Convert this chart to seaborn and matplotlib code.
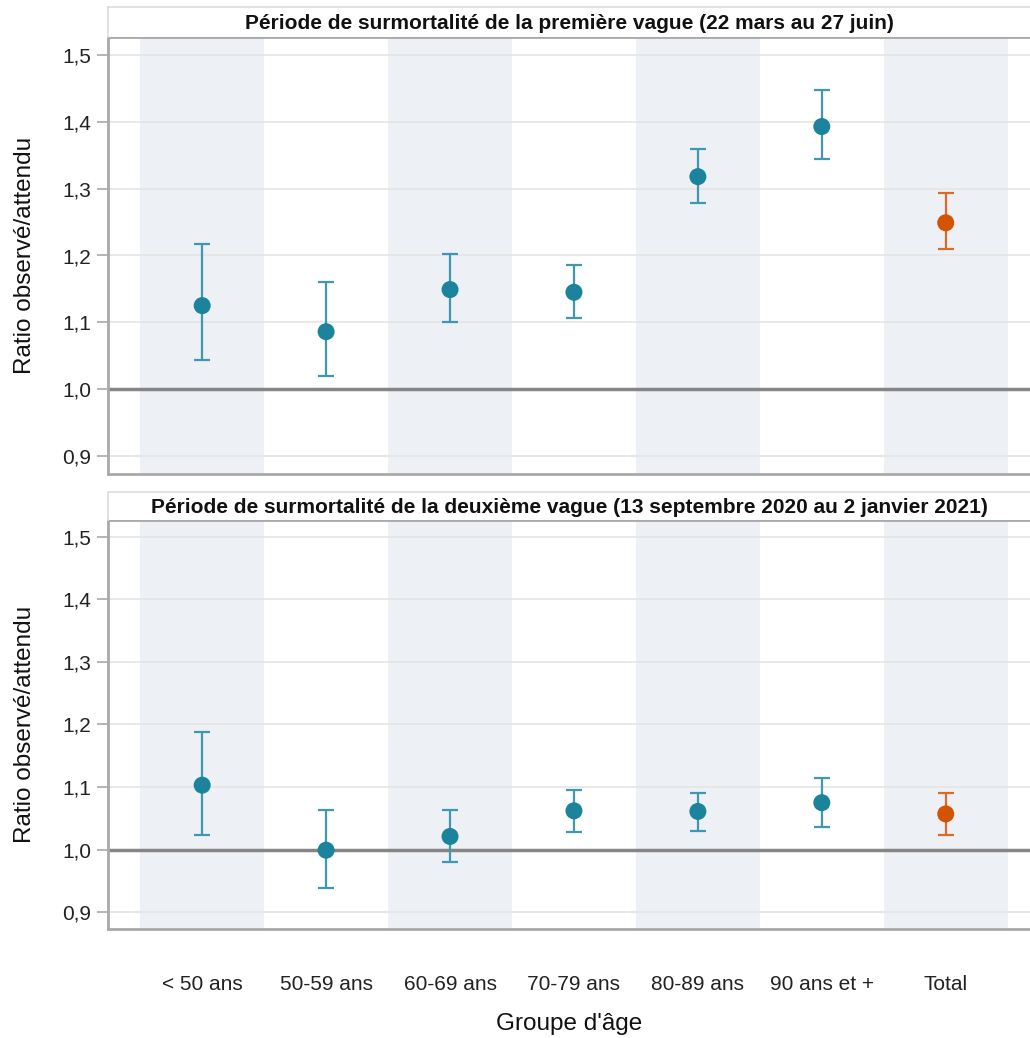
import numpy as np
import pandas as pd
import matplotlib
matplotlib.use("Agg")
import matplotlib.pyplot as plt
from matplotlib.ticker import FuncFormatter
import seaborn as sns

# categories and values
groupes = ["< 50 ans", "50-59 ans", "60-69 ans", "70-79 ans", "80-89 ans", "90 ans et +", "Total"]

vague1_ratio = [1.125, 1.086, 1.149, 1.145, 1.318, 1.393, 1.249]
vague1_bas = [1.044, 1.020, 1.101, 1.107, 1.279, 1.344, 1.210]
vague1_haut = [1.217, 1.160, 1.202, 1.186, 1.359, 1.448, 1.293]

vague2_ratio = [1.103, 0.999, 1.021, 1.062, 1.061, 1.075, 1.057]
vague2_bas = [1.023, 0.938, 0.980, 1.028, 1.029, 1.036, 1.023]
vague2_haut = [1.188, 1.063, 1.064, 1.096, 1.091, 1.114, 1.091]

titres = [
    "Période de surmortalité de la première vague (22 mars au 27 juin)",
    "Période de surmortalité de la deuxième vague (13 septembre 2020 au 2 janvier 2021)",
]

TEAL = "#1c839c"
TEAL_BAR = "#3f97b0"
ORANGE = "#d35400"
ORANGE_BAR = "#db6a2a"
BAND = "#edf0f5"
SPINE = "#a9a9a9"

sns.set_theme(style="white")
plt.rcParams["font.family"] = ["Liberation Sans", "DejaVu Sans"]

fig = plt.figure(figsize=(10.3, 10.38), dpi=100)
W, H = 1030, 1038

# panel boxes in pixels: (top of header, top of plot, bottom of plot)
panels = [(7, 37, 474), (492, 520, 929)]
left_px, right_px = 108, 1030

series = [
    (vague1_ratio, vague1_bas, vague1_haut),
    (vague2_ratio, vague2_bas, vague2_haut),
]

for k, ((h_top, p_top, p_bot), (ratio, bas, haut)) in enumerate(zip(panels, series)):
    ax = fig.add_axes([left_px / W, 1 - p_bot / H, (right_px - left_px) / W, (p_bot - p_top) / H])
    hx = fig.add_axes([left_px / W, 1 - p_top / H, (right_px - left_px) / W, (p_top - h_top) / H])

    # header strip
    hx.set_xticks([])
    hx.set_yticks([])
    for s in ["top", "left"]:
        hx.spines[s].set_color("#dddddd")
        hx.spines[s].set_linewidth(1.2)
    hx.spines["right"].set_visible(False)
    hx.spines["bottom"].set_visible(False)
    hx.text(0.5, 0.45, titres[k], ha="center", va="center", fontsize=15,
            fontweight="bold", color="#111111", transform=hx.transAxes)

    df = pd.DataFrame({
        "groupe": groupes,
        "ratio": ratio,
        "type": ["age"] * (len(groupes) - 1) + ["total"],
    })

    # alternating shaded bands
    for i in range(0, len(groupes), 2):
        ax.axvspan(i - 0.5, i + 0.5, color=BAND, zorder=0, lw=0)

    ax.set_yticks([0.9, 1.0, 1.1, 1.2, 1.3, 1.4, 1.5])
    ax.grid(axis="y", color="#e6e6e6", lw=1.3, zorder=0.5)
    ax.set_axisbelow(True)
    ax.axhline(1.0, color="#858585", lw=2.5, zorder=1)

    x = np.arange(len(groupes))
    for i in x:
        c = ORANGE_BAR if df["type"][i] == "total" else TEAL_BAR
        ax.errorbar(i, ratio[i], yerr=[[ratio[i] - bas[i]], [haut[i] - ratio[i]]],
                    fmt="none", ecolor=c, elinewidth=1.6, capsize=6, capthick=1.6, zorder=2)

    sns.scatterplot(data=df, x="groupe", y="ratio", hue="type",
                    palette={"age": TEAL, "total": ORANGE}, s=150,
                    edgecolor="none", legend=False, ax=ax, zorder=3)

    ax.set_xlim(-0.76, 6.68)
    ax.set_ylim(0.873, 1.527)
    ax.yaxis.set_major_formatter(FuncFormatter(lambda v, p: f"{v:.1f}".replace(".", ",")))
    ax.tick_params(axis="y", left=True, length=8, width=1.2, color=SPINE,
                   labelsize=15, labelcolor="#222222", pad=4)
    ax.set_ylabel("Ratio observé/attendu", fontsize=17.5, color="#111111", labelpad=19)

    for s in ["left", "bottom", "top"]:
        ax.spines[s].set_color(SPINE)
        ax.spines[s].set_linewidth(2)
    ax.spines["right"].set_visible(False)

    if k == 0:
        ax.set_xticks(x)
        ax.set_xticklabels([])
        ax.tick_params(axis="x", bottom=False)
        ax.set_xlabel("")
    else:
        ax.set_xticks(x)
        ax.set_xticklabels(groupes)
        ax.tick_params(axis="x", bottom=False, labelsize=15, labelcolor="#222222", pad=27)
        ax.set_xlabel("Groupe d'âge", fontsize=17.5, color="#111111", labelpad=14)

fig.savefig("out.png", dpi=100, facecolor="white")
